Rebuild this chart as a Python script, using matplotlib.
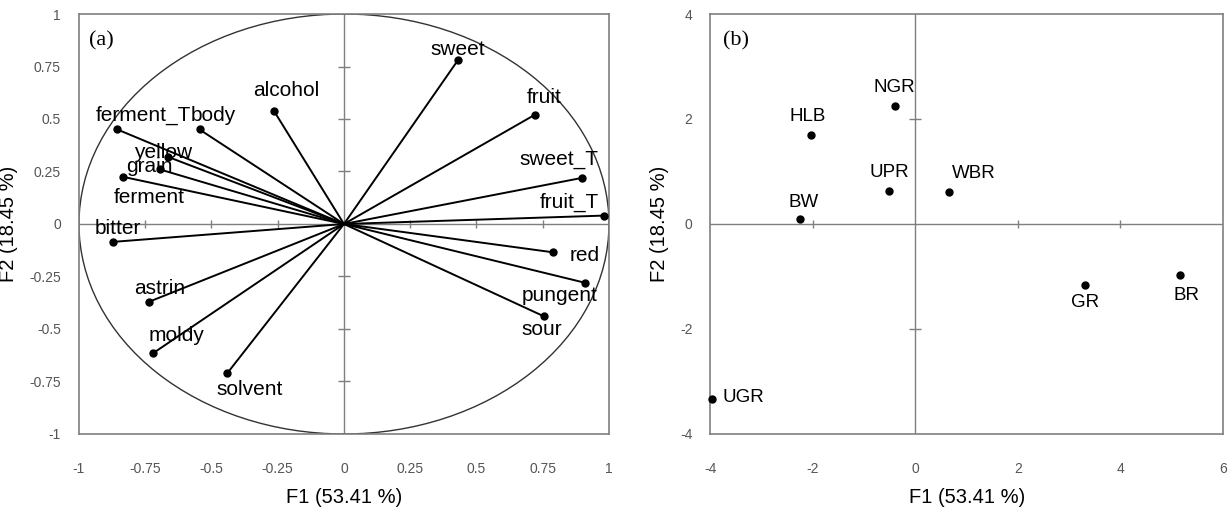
import numpy as np
import matplotlib.pyplot as plt
from matplotlib.patches import Ellipse
from matplotlib.ticker import FuncFormatter


# (a) loadings of the sensory attributes
attributes = ['sweet', 'fruit', 'sweet_T', 'fruit_T', 'red', 'pungent', 'sour',
              'solvent', 'moldy', 'astrin', 'bitter', 'ferment', 'grain',
              'yellow', 'ferment_T', 'body', 'alcohol']
f1_loadings = [0.43, 0.72, 0.90, 0.98, 0.79, 0.91, 0.755,
               -0.44, -0.72, -0.735, -0.87, -0.835, -0.695,
               -0.665, -0.855, -0.545, -0.265]
f2_loadings = [0.78, 0.52, 0.22, 0.04, -0.135, -0.28, -0.44,
               -0.71, -0.615, -0.37, -0.085, 0.225, 0.26,
               0.32, 0.45, 0.45, 0.54]

# (b) scores of the samples
samples = ['NGR', 'HLB', 'UPR', 'WBR', 'BW', 'GR', 'BR', 'UGR']
f1_scores = [-0.40, -2.03, -0.51, 0.65, -2.25, 3.32, 5.17, -3.98]
f2_scores = [2.24, 1.70, 0.63, 0.60, 0.09, -1.16, -0.97, -3.33]

x_label = 'F1 (53.41 %)'
y_label = 'F2 (18.45 %)'
a_ticks = [-1, -0.75, -0.5, -0.25, 0, 0.25, 0.5, 0.75, 1]
b_xticks = [-4, -2, 0, 2, 4, 6]
b_yticks = [-4, -2, 0, 2, 4]

# label offsets in pixels (right, up) from each point
a_offsets = {
  'sweet': (0, 11), 'fruit': (9, 17), 'sweet_T': (-24, 18), 'fruit_T': (-34, 13),
  'red': (31, -3), 'pungent': (-26, -13), 'sour': (-2, -13), 'solvent': (22, -16),
  'moldy': (23, 18), 'astrin': (10, 13), 'bitter': (4, 13), 'ferment': (27, -21),
  'grain': (-10, 3), 'yellow': (-5, 4), 'ferment_T': (26, 14), 'body': (14, 14),
  'alcohol': (13, 20),
}
b_offsets = {
  'NGR': (-1, 19), 'HLB': (-4, 18), 'UPR': (0, 18), 'WBR': (25, 19),
  'BW': (3, 17), 'GR': (0, -18), 'BR': (6, -21), 'UGR': (32, 1),
}

GREY = '#7f7f7f'
plt.rcParams['axes.unicode_minus'] = False
plt.rcParams['font.family'] = ['Liberation Sans', 'DejaVu Sans']


def style_axes(ax, xticks, yticks):
  for sp in ax.spines.values():
    sp.set_color(GREY)
    sp.set_linewidth(1.2)
  ax.set_xticks(xticks)
  ax.set_yticks(yticks)
  fmt = FuncFormatter(lambda v, p: f'{v:g}')
  ax.xaxis.set_major_formatter(fmt)
  ax.yaxis.set_major_formatter(fmt)
  ax.tick_params(length=0, labelsize=10, labelcolor='#555555')
  ax.tick_params(axis='x', pad=20)
  ax.tick_params(axis='y', pad=13)
  ax.set_xlabel(x_label, fontsize=14.5, labelpad=9)
  ax.set_ylabel(y_label, fontsize=14.5, labelpad=8)
  # zero lines with small crossing ticks
  ax.axhline(0, color=GREY, lw=1.0, zorder=1)
  ax.axvline(0, color=GREY, lw=1.0, zorder=1)
  xt = [v for v in xticks[1:-1] if v != 0]
  yt = [v for v in yticks[1:-1] if v != 0]
  ax.plot(xt, np.zeros(len(xt)), ls='none', marker='|', ms=6, mew=1.0, color=GREY, zorder=1)
  ax.plot(np.zeros(len(yt)), yt, ls='none', marker='_', ms=8, mew=1.0, color=GREY, zorder=1)


def px(v):
  return v * 0.72


fig = plt.figure(figsize=(12.32, 5.11), dpi=100)
ax1 = fig.add_axes([0.0641, 0.1507, 0.4302, 0.8219])
ax2 = fig.add_axes([0.5767, 0.1507, 0.4158, 0.8219])

# (a) correlation circle
ax1.set_xlim(-1, 1)
ax1.set_ylim(-1, 1)
style_axes(ax1, a_ticks, a_ticks)
ax1.add_patch(Ellipse((0, 0), 2, 2, fill=False, ec='#333333', lw=1.0, zorder=2))
for name, x, y in zip(attributes, f1_loadings, f2_loadings):
  ax1.plot([0, x], [0, y], color='black', lw=1.4, zorder=3)
  ax1.plot(x, y, 'o', color='black', ms=5, zorder=4, clip_on=False)
  dx, dy = a_offsets[name]
  ax1.annotate(name, (x, y), xytext=(px(dx), px(dy)), textcoords='offset points',
               ha='center', va='center', fontsize=15, zorder=5)
ax1.text(0.019, 0.935, '(a)', transform=ax1.transAxes, fontsize=16,
         family='Liberation Serif', ha='left', va='center')

# (b) sample scores
ax2.set_xlim(-4, 6)
ax2.set_ylim(-4, 4)
style_axes(ax2, b_xticks, b_yticks)
ax2.plot(f1_scores, f2_scores, 'o', color='black', ms=5, zorder=4, clip_on=False)
for name, x, y in zip(samples, f1_scores, f2_scores):
  dx, dy = b_offsets[name]
  ax2.annotate(name, (x, y), xytext=(px(dx), px(dy)), textcoords='offset points',
               ha='center', va='center', fontsize=13.5, zorder=5)
ax2.text(0.024, 0.935, '(b)', transform=ax2.transAxes, fontsize=16,
         family='Liberation Serif', ha='left', va='center')

fig.savefig('out.png', dpi=100)
